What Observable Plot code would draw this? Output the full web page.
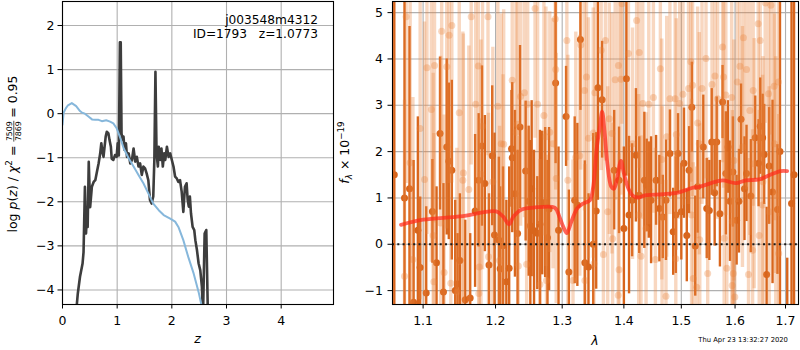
<!DOCTYPE html>
<html><head><meta charset="utf-8">
<script src="https://cdn.jsdelivr.net/npm/d3@7"></script>
<script src="https://cdn.jsdelivr.net/npm/@observablehq/plot@0.6"></script>
<style>
html,body{margin:0;padding:0;background:#fff;}
#wrap{position:relative;width:800px;height:350px;font-family:"DejaVu Sans",sans-serif;}
#wrap svg{position:absolute;top:0;}
</style></head>
<body><div id="wrap"></div>
<script>
// ---------- left panel data ----------
const zTicks = [0, 1, 2, 3, 4];
const logpTicks = [-4, -3, -2, -1, 0, 1, 2];
const blueZ = [0,0.02,0.06,0.10,0.17,0.25,0.32,0.36,0.41,0.48,0.54,0.60,0.66,0.72,0.80,0.87,0.93,0.99,1.06,1.12,1.21,1.30,1.39,1.48,1.57,1.66,1.76,1.85,1.97,2.06,2.12,2.21,2.30,2.40,2.49,2.55,2.60];
const blueV = [-0.25,0.02,0.12,0.19,0.24,0.17,0.06,0.02,0.0,-0.07,-0.13,-0.14,-0.14,-0.17,-0.15,-0.18,-0.22,-0.33,-0.56,-0.79,-1.01,-1.20,-1.39,-1.58,-1.81,-2.04,-2.19,-2.30,-2.38,-2.45,-2.57,-2.87,-3.25,-3.63,-4.05,-4.39,-4.8];
const darkZ = [0.25,0.262,0.28,0.32,0.367,0.385,0.41,0.43,0.446,0.46,0.48,0.506,0.537,0.57,0.60,0.63,0.66,0.69,0.71,0.73,0.75,0.77,0.79,0.81,0.84,0.86,0.885,0.90,0.93,0.96,0.99,1.01,1.03,1.05,1.065,1.08,1.10,1.116,1.135,1.16,1.18,1.21,1.24,1.27,1.30,1.33,1.36,1.39,1.42,1.45,1.48,1.51,1.54,1.57,1.60,1.63,1.66,1.68,1.70,1.72,1.745,1.76,1.79,1.81,1.835,1.86,1.88,1.91,1.94,1.97,2.00,2.03,2.06,2.09,2.12,2.15,2.18,2.21,2.24,2.27,2.29,2.31,2.33,2.35,2.38,2.41,2.43,2.46,2.49,2.52,2.55,2.57,2.60,2.63,2.66];
const darkV = [-4.6,-4.33,-4.08,-3.70,-3.40,-3.14,-1.66,-2.72,-2.34,-2.57,-1.09,-2.12,-1.66,-1.55,-1.51,-1.32,-1.13,-0.90,-0.67,-0.86,-0.98,-0.75,-0.52,-0.41,-0.45,-0.60,-0.75,-1.02,-1.05,-0.94,-0.98,-0.67,-0.95,1.62,1.62,-0.45,-0.60,-0.52,-0.82,-0.67,-0.98,-0.90,-1.13,-1.05,-0.79,-1.09,-0.98,-1.20,-1.13,-1.39,-1.20,-1.24,-1.36,-1.51,-1.96,-2.04,-1.88,-1.05,0.95,-0.90,-1.20,-0.75,-1.05,-0.79,-1.20,-0.90,-1.05,-0.75,-0.98,-0.90,-1.05,-1.20,-1.43,-1.47,-1.55,-1.51,-1.77,-2.23,-1.66,-1.58,-1.96,-2.11,-1.88,-2.26,-2.57,-2.64,-2.87,-3.10,-3.40,-3.55,-3.93,-4.6,-2.72,-2.64,-4.6];

// ---------- right panel data ----------
const lamTicks = [1.1, 1.2, 1.3, 1.4, 1.5, 1.6, 1.7];
const fluxTicks = [-1, 0, 1, 2, 3, 4, 5];
const darkLam = [1.0626,1.0757,1.0822,1.0875,1.0931,1.0961,1.1041,1.1124,1.1179,1.1226,1.1272,1.1317,1.1345,1.1386,1.1433,1.1465,1.1497,1.1571,1.1640,1.1709,1.1759,1.1806,1.1847,1.1906,1.1952,1.1985,1.2048,1.2067,1.2108,1.2157,1.2198,1.2232,1.2243,1.2283,1.2322,1.2358,1.2442,1.2487,1.2512,1.2532,1.2568,1.2617,1.2658,1.2692,1.2737,1.2772,1.2797,1.2898,1.2943,1.3061,1.3105,1.3197,1.3239,1.3288,1.3359,1.3417,1.3494,1.3542,1.3570,1.3639,1.3838,1.3919,1.4000,1.4042,1.4087,1.4139,1.4204,1.4261,1.4348,1.4390,1.4425,1.4465,1.4552,1.4610,1.4669,1.4726,1.4796,1.4854,1.4901,1.4941,1.5000,1.5048,1.5099,1.5141,1.5191,1.5253,1.5297,1.5401,1.5465,1.5513,1.5558,1.5613,1.5651,1.5712,1.5762,1.5824,1.5866,1.5903,1.5959,1.6030,1.6075,1.6115,1.6182,1.6222,1.6307,1.6392,1.6459,1.6491,1.6539,1.6570,1.6618,1.6669,1.6737,1.6836,1.6887,1.7035,1.7123,1.7175];
const darkFlux = [1.5,1.0,1.2,-1.25,0.3,-0.50,-1.05,0.71,-0.4,2.39,-1.03,2.10,1.79,1.60,-1.0,-0.86,-0.35,-1.2,-1.16,0.72,1.38,2.12,1.31,-0.45,1.91,0.2,0.09,-0.53,-0.03,-0.81,-0.52,2.06,1.87,1.09,0.23,2.53,1.58,0.93,0.40,1.20,0.29,0.24,0.43,0.89,0.90,0.14,0.76,3.48,0.30,2.76,-0.60,0.95,0.85,4.42,-0.4,-0.49,0.0,0.72,3.38,3.12,1.6,1.38,0.34,3.57,0.63,0.95,1.92,1.06,1.38,1.27,1.17,0.95,1.38,0.77,0.59,0.95,1.96,0.27,0.63,1.96,0.70,1.75,0.19,1.60,2.96,-0.04,1.24,2.10,0.77,0.73,2.21,1.11,2.21,0.66,3.07,1.53,2.10,0.93,1.56,0.52,0.93,2.70,1.20,1.53,1.04,2.30,1.75,2.55,2.30,1.94,-0.65,1.69,1.13,0.75,2.0,-1.5,0.88,1.5];
const darkErr = [4.0,4.5,3.5,3.06,2.45,1.52,1.86,1.12,1.64,1.65,2.34,1.90,1.69,1.94,1.95,1.09,1.44,1.72,1.39,1.65,1.44,1.73,1.47,1.54,1.51,2.2,1.79,1.77,1.70,1.76,2.19,1.26,1.62,1.80,1.80,1.76,1.51,1.62,1.84,1.90,1.74,1.22,2.03,1.55,1.62,1.67,1.76,1.74,1.80,1.08,1.77,1.80,1.76,1.53,2.2,1.58,2.39,1.69,2.43,1.26,1.29,1.15,1.76,2.10,1.70,1.22,1.44,1.26,1.47,1.00,1.04,1.37,0.97,1.15,0.90,1.30,0.94,0.94,1.26,0.86,1.04,1.19,1.00,0.94,0.97,1.08,1.00,1.12,1.08,1.08,1.15,1.15,0.97,1.15,0.79,1.33,1.00,1.30,1.19,0.97,1.12,0.76,1.12,1.04,1.22,0.90,0.94,1.04,0.94,1.08,1.45,1.26,1.98,1.40,5.0,1.2,5.0,5.0];
const lightLam = [1.0757,1.0778,1.0830,1.0866,1.0961,1.1019,1.1051,1.1110,1.1134,1.1143,1.1152,1.1234,1.1248,1.1281,1.1317,1.1350,1.1372,1.1386,1.1455,1.1488,1.1538,1.1545,1.1621,1.1654,1.1717,1.1754,1.1761,1.1768,1.1792,1.1814,1.1892,1.1899,1.1961,1.2033,1.2058,1.2082,1.2108,1.2118,1.2243,1.2298,1.2318,1.2333,1.2367,1.2423,1.2457,1.2472,1.2583,1.2622,1.2658,1.2718,1.2748,1.2757,1.2808,1.2857,1.2892,1.2900,1.2907,1.3073,1.3089,1.3170,1.3214,1.3278,1.3294,1.3353,1.3359,1.3385,1.3417,1.3494,1.3505,1.3521,1.3623,1.3660,1.3693,1.3731,1.3757,1.3801,1.3812,1.3854,1.3905,1.3909,1.3919,1.3951,1.3968,1.4077,1.4146,1.4216,1.4251,1.4261,1.4291,1.4321,1.4378,1.4425,1.4505,1.4540,1.4627,1.4652,1.4657,1.4726,1.4739,1.4796,1.4889,1.4901,1.4910,1.4970,1.5030,1.5130,1.5173,1.5186,1.5204,1.5216,1.5279,1.5297,1.5327,1.5336,1.5377,1.5451,1.5483,1.5563,1.5619,1.5669,1.5762,1.5781,1.5792,1.5824,1.5842,1.5935,1.5944,1.5948,1.5967,1.5978,1.5996,1.6044,1.6095,1.6143,1.6162,1.6222,1.6261,1.6287,1.6341,1.6352,1.6372,1.6451,1.6471,1.6491,1.6539,1.6545,1.6590,1.6657,1.6669,1.6703,1.6768,1.6778,1.6802,1.6855,1.6861];
const lightFlux = [-0.69,4.91,1.76,-0.33,2.50,1.40,3.81,2.91,0.19,-0.81,3.86,0.46,4.60,-0.61,3.83,4.51,-0.84,4.72,-1.03,2.84,1.38,1.54,1.18,4.91,3.02,3.85,-1.06,-0.49,1.51,2.55,4.91,-0.27,1.35,2.98,-0.35,2.17,0.66,2.16,3.54,2.42,2.59,-0.47,3.19,3.27,-0.43,3.02,5.09,3.02,-0.87,2.78,2.32,-0.78,2.42,2.17,4.86,3.77,1.42,4.40,1.38,-0.78,1.88,1.91,4.30,3.32,-0.78,3.61,2.29,2.40,-0.42,3.27,4.19,-0.22,4.40,0.70,2.71,2.39,0.12,3.55,-1.10,3.86,-0.55,3.56,5.19,4.12,2.17,4.83,0.63,4.14,-0.26,3.04,0.34,3.02,3.17,-0.33,3.79,1.83,0.57,-1.12,2.32,3.14,3.14,-0.31,2.37,3.04,3.24,3.36,3.94,0.63,3.43,-0.74,-0.93,2.62,2.17,0.10,3.36,4.01,-0.63,3.45,3.63,3.14,4.26,3.61,0.13,3.22,-0.52,3.17,-0.89,0.49,-0.63,1.81,-1.14,3.50,3.84,2.10,4.46,3.77,-0.65,2.89,-0.13,3.32,1.74,4.76,0.19,4.40,0.85,1.35,5.21,3.25,0.70,5.16,3.41,2.17,1.05,3.50,-0.20];
const lightErr = [3.8,3.6,3.9,3.5,3.7,3.4,3.6,3.3,3.5,3.2,3.4,3.6,3.3,3.4,3.5,3.2,3.3,3.4,3.1,3.3,3.2,3.0,3.1,3.2,3.0,3.1,3.0,3.2,2.9,3.1,3.0,3.1,2.9,3.0,2.9,2.8,3.0,2.9,2.8,2.9,2.7,2.8,2.8,2.7,2.9,2.7,2.8,2.6,2.7,2.6,2.8,2.7,2.6,2.7,2.8,2.6,2.7,2.6,2.7,2.6,2.7,2.6,2.7,2.6,2.5,2.7,2.6,2.7,2.6,2.5,2.6,2.5,2.6,2.7,2.5,2.6,2.5,2.6,2.4,2.6,2.5,2.5,2.6,2.6,2.5,2.5,2.6,2.5,2.6,2.5,2.5,2.6,2.5,2.4,2.5,2.6,2.4,2.5,2.6,2.5,2.4,2.6,2.5,2.5,2.4,2.5,2.6,2.5,2.4,2.5,2.6,2.5,2.4,2.5,2.5,2.6,2.5,2.4,2.5,2.6,2.5,2.4,2.5,2.6,2.5,2.5,2.6,2.4,2.5,2.6,2.5,2.6,2.5,2.6,2.5,2.6,2.5,2.7,2.6,2.5,2.7,2.6,2.7,2.6,2.8,2.7,2.6,2.8,2.7,2.8,2.9,2.8,3.0,2.9,3.0];
const modelLam = [1.0712,1.1000,1.1502,1.2008,1.2108,1.2198,1.2258,1.2382,1.2558,1.2883,1.2958,1.3019,1.3073,1.3142,1.3235,1.3332,1.3440,1.3494,1.3547,1.3601,1.3639,1.3681,1.3725,1.3790,1.3833,1.3880,1.3951,1.4000,1.4077,1.4157,1.4233,1.4378,1.4669,1.4958,1.5204,1.5327,1.5545,1.5762,1.6010,1.6208,1.6472,1.6669,1.6901,1.7033];
const modelFlux = [0.42,0.53,0.60,0.71,0.60,0.43,0.59,0.75,0.79,0.79,0.59,0.37,0.24,0.48,0.77,0.88,0.95,1.24,2.03,2.53,2.86,2.39,1.74,1.24,1.20,1.38,1.80,1.53,1.20,1.04,1.01,1.06,1.08,1.12,1.22,1.24,1.32,1.38,1.32,1.38,1.40,1.49,1.58,1.58];

// ---------- build tables ----------
const blueCurve = blueZ.map((z, i) => ({z, v: blueV[i]}));
const darkCurve = darkZ.map((z, i) => ({z, v: darkV[i]}));
const darkSpec = darkLam.map((l, i) => ({l, f: darkFlux[i], e: darkErr[i]}));
const lightSpec = lightLam.map((l, i) => ({l, f: lightFlux[i], e: lightErr[i]}));
const model = modelLam.map((l, i) => ({l, f: modelFlux[i]}));

const FONT = "DejaVu Sans, sans-serif";
const gridStyle = {stroke: "#b0b0b0", strokeOpacity: 1, strokeWidth: 1.1};
const intFmt = d3.format("d");

const left = Plot.plot({
  width: 340, height: 350,
  marginLeft: 62, marginRight: 7, marginTop: 1, marginBottom: 46,
  style: {fontFamily: FONT, fontSize: "12.5px", background: "transparent", color: "black"},
  x: {domain: [0, 4.957]},
  y: {domain: [-4.33, 2.545]},
  marks: [
    Plot.gridX(zTicks, gridStyle),
    Plot.gridY(logpTicks, gridStyle),
    Plot.line(darkCurve, {x: "z", y: "v", stroke: "#3d3d3d", strokeWidth: 2.6, clip: true}),
    Plot.line(blueCurve, {x: "z", y: "v", stroke: "#86b7db", strokeWidth: 2, clip: true}),
    Plot.frame({stroke: "black", strokeWidth: 1.1}),
    Plot.axisX(zTicks, {tickSize: 4.5, tickPadding: 7, label: null, tickFormat: intFmt}),
    Plot.axisY(logpTicks, {tickSize: 4.5, tickPadding: 3.5, label: null, tickFormat: intFmt})
  ]
});
left.style.left = "0px";

const DARK = "#d8651c", LIGHT = "#e8843c";
const right = Plot.plot({
  width: 460, height: 350,
  marginLeft: 52, marginRight: 2, marginTop: 1, marginBottom: 46,
  style: {fontFamily: FONT, fontSize: "12.5px", background: "transparent", color: "black"},
  x: {type: "log", domain: [1.0603, 1.7267]},
  y: {domain: [-1.30, 5.24]},
  marks: [
    Plot.gridX(lamTicks, gridStyle),
    Plot.gridY(fluxTicks, gridStyle),
    Plot.ruleX(darkSpec, {x: "l", y1: d => d.f - d.e, y2: d => d.f + d.e, stroke: DARK, strokeWidth: 2.4, clip: true}),
    Plot.dot(darkSpec, {x: "l", y: "f", r: 3.5, fill: DARK, stroke: "none", clip: true}),
    Plot.ruleX(lightSpec, {x: "l", y1: d => d.f - d.e, y2: d => d.f + d.e, stroke: LIGHT, strokeOpacity: 0.32, strokeWidth: 3.4, clip: true}),
    Plot.dot(lightSpec, {x: "l", y: "f", r: 3.5, fill: LIGHT, fillOpacity: 0.32, stroke: "none", clip: true}),
    Plot.line(model, {x: "l", y: "f", stroke: "#ff2a1a", strokeOpacity: 0.72, strokeWidth: 3.8, curve: "catmull-rom", clip: true}),
    Plot.ruleY([0], {stroke: "#1a1a1a", strokeWidth: 2, strokeDasharray: "2,3.3"}),
    Plot.frame({stroke: "black", strokeWidth: 1.1}),
    Plot.axisX(lamTicks, {tickSize: 4.5, tickPadding: 7, label: null, tickFormat: d3.format(".1f")}),
    Plot.axisY(fluxTicks, {tickSize: 4.5, tickPadding: 5, label: null, tickFormat: intFmt})
  ]
});
right.style.left = "340px";

const wrap = document.getElementById("wrap");
wrap.appendChild(left);
wrap.appendChild(right);

// ---------- overlay texts ----------
const ov = d3.select(wrap).append("svg")
  .attr("width", 800).attr("height", 350)
  .style("left", "0px").style("pointer-events", "none")
  .attr("font-family", FONT).attr("fill", "black");

ov.append("text").attr("x", 318).attr("y", 23.5).attr("text-anchor", "end").attr("font-size", 12.2).text("j003548m4312");
ov.append("text").attr("x", 318).attr("y", 38).attr("text-anchor", "end").attr("font-size", 12.2).text("ID=1793\u00a0\u00a0\u00a0z=1.0773");

ov.append("text").attr("x", 197.5).attr("y", 343).attr("text-anchor", "middle").attr("font-size", 12.5).attr("font-style", "italic").text("z");
ov.append("text").attr("x", 595).attr("y", 345).attr("text-anchor", "middle").attr("font-size", 12.5).attr("font-style", "italic").text("λ");
ov.append("text").attr("x", 698.3).attr("y", 341.5).attr("font-size", 6.8).text("Thu Apr 23 13:32:27 2020");

// right y label
const ry = ov.append("text").attr("transform", "translate(349,152.5) rotate(-90)").attr("text-anchor", "middle").attr("font-size", 12.5);
ry.append("tspan").attr("font-style", "italic").text("f");
ry.append("tspan").attr("font-style", "italic").attr("font-size", 8.75).attr("dy", 3).text("λ");
ry.append("tspan").attr("dy", -3).text("\u00a0×\u00a010");
ry.append("tspan").attr("font-size", 8.75).attr("dy", -5.5).text("−19");

// left y label with fraction
const lg = ov.append("g").attr("font-size", 12.5);
const t1 = lg.append("text").attr("x", 0).attr("y", 0);
t1.append("tspan").text("log\u00a0");
t1.append("tspan").attr("font-style", "italic").text("p");
t1.append("tspan").text("(");
t1.append("tspan").attr("font-style", "italic").text("z");
t1.append("tspan").text(")\u00a0/\u00a0");
t1.append("tspan").attr("font-style", "italic").text("χ");
t1.append("tspan").attr("font-size", 8.75).attr("dy", -5).text("2");
t1.append("tspan").attr("dy", 5).text("\u00a0=");
const w1 = t1.node().getComputedTextLength();
const fx0 = w1 + 4;
const num = lg.append("text").attr("font-size", 7.8).attr("text-anchor", "middle").attr("y", -4.6).text("7509");
const den = lg.append("text").attr("font-size", 7.8).attr("text-anchor", "middle").attr("y", 4.0).text("7869");
const fw = Math.max(num.node().getComputedTextLength(), den.node().getComputedTextLength()) + 1;
num.attr("x", fx0 + fw / 2); den.attr("x", fx0 + fw / 2);
lg.append("line").attr("x1", fx0).attr("x2", fx0 + fw).attr("y1", -3.2).attr("y2", -3.2).attr("stroke", "black").attr("stroke-width", 0.7);
const t3 = lg.append("text").attr("x", fx0 + fw + 3).attr("y", 0).text("=\u00a00.95");
const W = fx0 + fw + 3 + t3.node().getComputedTextLength();
lg.attr("transform", `translate(17,${154 + W / 2}) rotate(-90)`);
</script>
</body></html>
